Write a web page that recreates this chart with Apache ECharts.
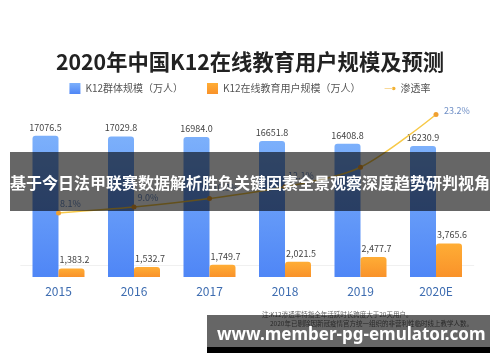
<!DOCTYPE html>
<html>
<head>
<meta charset="utf-8">
<script src="https://cdn.jsdelivr.net/npm/echarts@6/dist/echarts.min.js"></script>
<style>
html,body{margin:0;padding:0;background:#fff;}
#c{width:500px;height:362px;}
</style>
</head>
<body>
<div id="c"></div>
<script>
// ---- data ----
const categories = ['2015', '2016', '2017', '2018', '2019', '2020E'];
const k12Population = [17076.5, 17029.8, 16984.0, 16651.8, 16408.8, 16230.9];
const onlineUsers = [1383.2, 1532.7, 1749.7, 2021.5, 2477.7, 3765.6];
const penetration = [8.1, 9.0, 10.3, 12.1, 15.1, 23.2];
const seriesNames = ['K12群体规模（万人）', 'K12在线教育用户规模（万人）', '渗透率'];
const titleText = '2020年中国K12在线教育用户规模及预测';
const bannerText = '基于今日法甲联赛数据解析胜负关键因素全景观察深度趋势研判视角';
const watermarkText = 'www.member-pg-emulator.com';
const noteLines = ['注:K12渗透率特指全年活跃时长跨度大于20天用户。', '2020年已剔除因新冠疫情官方统一组织的非营利性临时线上教学人数。'];

// ---- styles ----
const FONT = '"Noto Sans CJK SC", "Noto Sans", sans-serif';
const lineLabelOffsets = [[12, -9], [14, -9], [16, -11], [16, -11], [18, -10], [21, -4]];
const lineLabelShown = [true, true, true, true, false, true];

const chart = echarts.init(document.getElementById('c'), null, {renderer: 'canvas'});

function fmtComma(v) {
  return v.toLocaleString('en-US', {minimumFractionDigits: 1, maximumFractionDigits: 1});
}

const option = {
  backgroundColor: '#fff',
  animation: false,
  textStyle: {fontFamily: FONT},
  title: {
    text: titleText,
    left: 'center',
    top: 46,
    textStyle: {fontFamily: FONT, fontSize: 21.3, fontWeight: 'bold', color: '#222'}
  },
  legend: {
    top: 78,
    left: 'center',
    itemWidth: 11,
    itemHeight: 11,
    itemGap: 24,
    textStyle: {fontFamily: FONT, fontSize: 10, color: '#555'},
    data: [
      {name: seriesNames[0], icon: 'rect'},
      {name: seriesNames[1], icon: 'rect'},
      {name: seriesNames[2], icon: 'path://M0,4.6H9V5.4H0Z M8,5A2,2 0 1,0 12,5A2,2 0 1,0 8,5Z',
       itemStyle: {color: '#f2b132'}}
    ]
  },
  grid: {left: 20.75, right: 26.25, top: 100, bottom: 85},
  xAxis: {
    type: 'category',
    data: categories,
    axisTick: {show: false},
    axisLine: {show: true, lineStyle: {color: '#f0f0f0'}},
    axisLabel: {margin: 8, fontSize: 12, color: '#3d6cb0', fontFamily: FONT}
  },
  yAxis: [
    {type: 'value', show: false, min: 5314, max: 20064, splitLine: {show: false}},
    {type: 'value', show: false, min: 570, max: 17484, splitLine: {show: false}},
    {type: 'value', show: false, min: -1.73, max: 25.42, splitLine: {show: false}}
  ],
  series: [
    {
      name: seriesNames[0],
      type: 'bar',
      yAxisIndex: 0,
      data: k12Population,
      barWidth: 26,
      barGap: '0%',
      itemStyle: {
        borderRadius: [3, 3, 0, 0],
        color: new echarts.graphic.LinearGradient(0, 0, 0, 1, [
          {offset: 0, color: '#7cb0fb'},
          {offset: 1, color: '#4f86f6'}
        ])
      },
      label: {
        show: true, position: 'top', distance: 4,
        fontSize: 9, color: '#444', fontFamily: FONT,
        formatter: p => p.value.toFixed(1)
      },
      z: 2
    },
    {
      name: seriesNames[1],
      type: 'bar',
      yAxisIndex: 1,
      data: onlineUsers,
      barWidth: 26,
      barGap: '0%',
      itemStyle: {
        borderRadius: [3, 3, 0, 0],
        color: new echarts.graphic.LinearGradient(0, 0, 0, 1, [
          {offset: 0, color: '#ffad35'},
          {offset: 1, color: '#f9922a'}
        ])
      },
      label: {
        show: true, position: 'top', distance: 4,
        fontSize: 9, color: '#444', fontFamily: FONT,
        offset: [3, 0],
        formatter: p => fmtComma(p.value)
      },
      z: 2
    },
    {
      name: seriesNames[2],
      type: 'line',
      yAxisIndex: 2,
      smooth: 0.3,
      symbol: 'circle',
      symbolSize: 5,
      lineStyle: {color: '#f7c948', width: 1.5},
      itemStyle: {color: '#f0a030'},
      data: penetration.map((v, i) => ({
        value: v,
        label: {show: lineLabelShown[i], offset: lineLabelOffsets[i]}
      })),
      label: {
        show: true, position: 'inside',
        fontSize: 9, color: '#6f8fc6', fontFamily: FONT,
        formatter: p => p.value.toFixed(1) + '%'
      },
      z: 5
    }
  ],
  graphic: [
    {
      type: 'rect', z: 100,
      shape: {x: 10, y: 152, width: 480, height: 59},
      style: {fill: 'rgba(0,0,0,0.6)'}
    },
    {
      type: 'text', z: 101,
      x: 250, y: 183,
      style: {
        text: bannerText, fill: '#fff',
        font: 'bold 16px "Noto Sans CJK SC"',
        textAlign: 'center', textVerticalAlign: 'middle'
      }
    },
    {
      type: 'text', z: 99,
      x: 262, y: 315,
      style: {
        text: noteLines[0], fill: '#666',
        font: '6.5px "Noto Sans CJK SC"',
        textAlign: 'left', textVerticalAlign: 'middle'
      }
    },
    {
      type: 'text', z: 99,
      x: 270, y: 324,
      style: {
        text: noteLines[1], fill: '#666',
        font: '6.5px "Noto Sans CJK SC"',
        textAlign: 'left', textVerticalAlign: 'middle'
      }
    },
    {
      type: 'rect', z: 100,
      shape: {x: 207, y: 315, width: 283, height: 32},
      style: {fill: 'rgba(0,0,0,0.6)'}
    },
    {
      type: 'rect', z: 100,
      shape: {x: 207, y: 347, width: 283, height: 6},
      style: {fill: '#000'}
    },
    {
      type: 'text', z: 101,
      x: 217, y: 335,
      style: {
        text: watermarkText, fill: '#fff',
        font: 'bold 17px "Noto Sans"',
        textAlign: 'left', textVerticalAlign: 'middle'
      }
    }
  ]
};

chart.setOption(option);
</script>
</body>
</html>
